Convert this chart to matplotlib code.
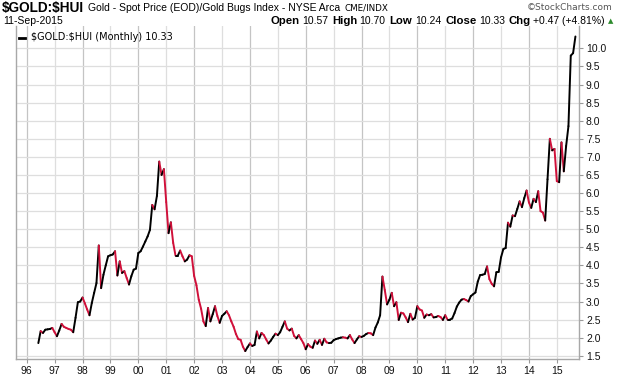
import numpy as np
import matplotlib
matplotlib.use("Agg")
import matplotlib.pyplot as plt
from matplotlib.collections import LineCollection

# $GOLD:$HUI monthly closes, first value is June 1996, last is Sep 2015
first_year, first_month = 1996, 6
ratio_close = [
    1.85, 2.18, 2.13, 2.22, 2.23, 2.24, 2.27,                          # 1996
    2.15, 2.04, 2.20, 2.38, 2.30, 2.27, 2.24, 2.22, 2.15, 2.55, 2.98, 3.00,  # 1997
    3.11, 2.95, 2.78, 2.62, 2.96, 3.24, 3.51, 4.55, 3.37, 3.74, 4.00, 4.25,  # 1998
    4.28, 4.30, 4.39, 3.72, 4.11, 3.79, 3.84, 3.65, 3.47, 3.70, 3.88, 3.91,  # 1999
    4.34, 4.39, 4.52, 4.66, 4.80, 4.98, 5.67, 5.55, 5.92, 6.87, 6.50, 6.66,  # 2000
    5.75, 4.89, 5.19, 4.62, 4.27, 4.27, 4.41, 4.25, 4.11, 4.16, 4.28, 4.25,  # 2001
    3.71, 3.45, 3.05, 2.80, 2.45, 2.32, 2.82, 2.45, 2.65, 2.87, 2.60, 2.41,  # 2002
    2.60, 2.66, 2.73, 2.62, 2.45, 2.30, 2.10, 1.96, 1.94, 1.75, 1.63, 1.74,  # 2003
    1.84, 1.77, 1.80, 2.17, 1.98, 2.13, 2.07, 1.95, 1.84, 1.92, 2.02, 2.11,  # 2004
    2.07, 2.15, 2.30, 2.45, 2.25, 2.20, 2.25, 2.05, 1.98, 2.07, 1.96, 1.85,  # 2005
    1.68, 1.82, 1.75, 1.72, 1.92, 1.83, 1.94, 1.80, 1.97, 1.87, 1.85, 1.86,  # 2006
    1.93, 1.96, 1.98, 2.00, 2.01, 2.00, 1.98, 2.07, 1.95, 1.85, 1.95, 2.04,  # 2007
    2.02, 2.05, 2.10, 2.13, 2.12, 2.07, 2.28, 2.42, 2.62, 3.69, 3.32, 2.92,  # 2008
    3.05, 3.24, 2.87, 2.98, 2.49, 2.69, 2.67, 2.56, 2.43, 2.66, 2.50, 2.55,  # 2009
    2.87, 2.78, 2.75, 2.55, 2.64, 2.62, 2.65, 2.56, 2.57, 2.60, 2.57, 2.49,  # 2010
    2.62, 2.50, 2.50, 2.53, 2.68, 2.86, 2.97, 3.05, 3.07, 3.04, 3.00, 3.15,  # 2011
    3.20, 3.25, 3.55, 3.73, 3.74, 3.76, 3.97, 3.62, 3.49, 3.42, 3.81, 3.82,  # 2012
    4.22, 4.45, 4.48, 5.18, 5.07, 5.38, 5.36, 5.56, 5.77, 5.61, 5.86, 6.07,  # 2013
    5.74, 5.59, 5.84, 5.75, 6.05, 5.50, 5.46, 5.24, 6.38, 7.50, 7.18, 7.22,  # 2014
    6.33, 6.30, 7.40, 6.60, 7.30, 7.85, 9.80, 9.87, 10.33,                # 2015
]

y_ticks = [1.5, 2.0, 2.5, 3.0, 3.5, 4.0, 4.5, 5.0, 5.5, 6.0, 6.5,
           7.0, 7.5, 8.0, 8.5, 9.0, 9.5, 10.0]
tick_years = list(range(1996, 2016))
year_labels = ['96', '97', '98', '99', '00', '01', '02', '03', '04', '05',
               '06', '07', '08', '09', '10', '11', '12', '13', '14', '15']

quote_date = '11-Sep-2015'
quote = [('Open', '10.57'), ('High', '10.70'), ('Low', '10.24'),
         ('Close', '10.33'), ('Chg', '+0.47 (+4.81%)')]

UP = '#000000'
DOWN = '#d0103a'
W, H = 620, 376

fig = plt.figure(figsize=(W / 100, H / 100), dpi=100)
ax = fig.add_axes([16 / W, 1 - 359 / H, (579 - 16) / W, (359 - 26) / H])

x = first_year + (first_month - 1 + np.arange(len(ratio_close))) / 12.0
y = np.array(ratio_close)
pts = np.column_stack([x, y]).reshape(-1, 1, 2)
segs = np.concatenate([pts[:-1], pts[1:]], axis=1)
cols = [UP if y[i + 1] >= y[i] else DOWN for i in range(len(y) - 1)]
lc = LineCollection(segs, colors=cols, linewidths=1.4, capstyle='round',
                    joinstyle='round', zorder=3)
ax.add_collection(lc)

ax.set_xlim(1995.616, 2015.795)
ax.set_ylim(1.41, 10.62)

# grid
for yr in tick_years:
    ax.axvline(yr, color='#c4c4c4' if yr % 2 == 0 else '#dedede', lw=0.9, zorder=1)
for v in y_ticks:
    ax.axhline(v, color='#dedede', lw=0.9, zorder=1)

ax.yaxis.tick_right()
ax.set_yticks(y_ticks)
ax.set_yticklabels(['%.1f' % v for v in y_ticks])
ax.set_xticks(tick_years)
ax.set_xticklabels(year_labels)
ax.tick_params(axis='both', direction='out', length=3, width=0.8,
               color='#999999', labelsize=7.5, labelcolor='#111111', pad=2)
for lab in ax.get_xticklabels() + ax.get_yticklabels():
    lab.set_family('Liberation Sans')

for side in ['left', 'right', 'bottom']:
    ax.spines[side].set_color('#a8a8a8')
    ax.spines[side].set_linewidth(1.0)
ax.spines['top'].set_visible(False)

# legend inside the plot
fig.lines.append(plt.Line2D([19 / W, 25 / W], [1 - 37.5 / H] * 2, color='black',
                            lw=2.0, transform=fig.transFigure))
fig.text(31 / W, 1 - 37.5 / H, '$GOLD:$HUI (Monthly) %.2f' % ratio_close[-1],
         family='DejaVu Sans', fontsize=7, va='center', ha='left',
         parse_math=False)

renderer = fig.canvas.get_renderer()


def put_run(x0, ypx, pieces, align='left'):
    # draw text pieces one after another, measuring each one
    texts = []
    xp = x0
    for s, kw, gap in pieces:
        t = fig.text(xp / W, 1 - ypx / H, s, va='center', ha='left',
                     parse_math=False, **kw)
        w = t.get_window_extent(renderer).width
        texts.append((t, xp))
        xp += w + gap
    if align == 'right':
        shift = x0 - xp
        for t, xs in texts:
            t.set_x((xs + shift) / W)
    return xp


bold = dict(family='Liberation Sans', fontweight='bold')

# title line
put_run(2, 8, [
    ('$GOLD:$HUI', dict(fontsize=9.8, **bold), 4),
    ('Gold - Spot Price (EOD)/Gold Bugs Index - NYSE Arca',
     dict(family='Liberation Sans', fontsize=7.5), 4),
    ('CME/INDX', dict(family='DejaVu Sans', fontsize=6.3), 0),
])
fig.text(612 / W, 1 - 8 / H, '\u00a9StockCharts.com', family='DejaVu Sans',
         fontsize=6.5, color='#555555', ha='right', va='center')

# second line
fig.text(3 / W, 1 - 21 / H, quote_date, family='Liberation Sans', fontsize=7.5,
         ha='left', va='center')
pieces = []
for i, (k, v) in enumerate(quote):
    pieces.append((k, dict(fontsize=8.2, **bold), 2.5))
    pieces.append((v, dict(family='Liberation Sans', fontsize=7.5),
                   4 if i < len(quote) - 1 else 0))
put_run(605, 21, pieces, align='right')
fig.text(608 / W, 1 - 21 / H, '\u25b2', family='DejaVu Sans', fontsize=5,
         color='#2e8b2e', ha='left', va='center')

fig.savefig('out.png', dpi=100)
